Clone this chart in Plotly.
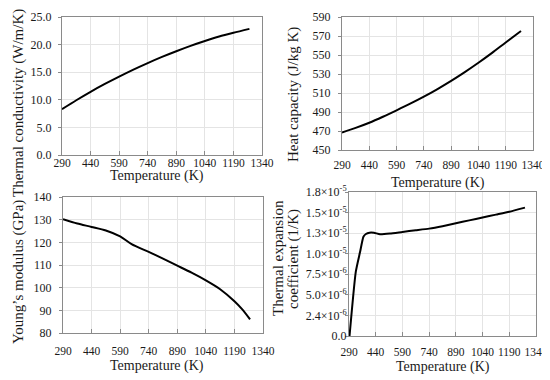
import plotly.graph_objects as go

# ---- data ----
T_k = [290, 365, 440, 515, 590, 665, 740, 815, 890, 965, 1040, 1115, 1190, 1274]
k_vals = [8.3, 9.92, 11.45, 12.87, 14.2, 15.47, 16.65, 17.77, 18.8, 19.77, 20.65, 21.47, 22.15, 22.85]

T_cp = [290, 365, 440, 515, 590, 665, 740, 815, 890, 965, 1040, 1115, 1190, 1274]
cp_vals = [468.5, 473.3, 478.7, 485.0, 491.8, 498.8, 506.2, 514.2, 522.8, 532.0, 541.8, 552.2, 563.2, 575.3]

T_E = [290, 365, 440, 515, 590, 650, 740, 815, 890, 965, 1040, 1115, 1190, 1230, 1272]
E_vals = [130.2, 128.3, 126.8, 125.2, 122.6, 119.2, 115.8, 112.8, 109.7, 106.6, 103.2, 99.3, 94.0, 90.5, 86.0]

T_a = [293, 328, 352, 371, 385, 405, 430, 464, 520, 590, 665, 740, 815, 890, 965, 1040, 1115, 1190, 1278]
a_vals = [0.0, 7.8e-6, 1.02e-5, 1.207e-5, 1.24e-5, 1.256e-5, 1.255e-5, 1.237e-5, 1.245e-5, 1.265e-5,
          1.285e-5, 1.305e-5, 1.335e-5, 1.37e-5, 1.405e-5, 1.44e-5, 1.475e-5, 1.51e-5, 1.56e-5]

x_ticks = [290, 440, 590, 740, 890, 1040, 1190, 1340]
k_ticks = [0, 5, 10, 15, 20, 25]
cp_ticks = [450, 470, 490, 510, 530, 550, 570, 590]
E_ticks = [80, 90, 100, 110, 120, 130, 140]
a_ticks = [0, 2.5e-6, 5e-6, 7.5e-6, 1e-5, 1.25e-5, 1.5e-5, 1.75e-5]
a_labels = ["0.0", "2.4×10<sup>-6</sup>", "5.0×10<sup>-6</sup>", "7.5×10<sup>-6</sup>",
            "1.0×10<sup>-5</sup>", "1.3×10<sup>-5</sup>", "1.5×10<sup>-5</sup>", "1.8×10<sup>-5</sup>"]

# page body has an 8px margin; the figure is sized to fill the rest of the window
OFF = 8
W, H = 550 - OFF, 380 - OFF
FONT = "Liberation Serif"

def px_x(p):
    return (p - OFF) / W

def px_y(p):
    return 1 - (p - OFF) / H

fig = go.Figure()
line = dict(color="black", width=2, shape="spline", smoothing=0.8)
fig.add_trace(go.Scatter(x=T_k, y=k_vals, mode="lines", line=line, xaxis="x", yaxis="y", showlegend=False))
fig.add_trace(go.Scatter(x=T_cp, y=cp_vals, mode="lines", line=line, xaxis="x2", yaxis="y2", showlegend=False))
fig.add_trace(go.Scatter(x=T_E, y=E_vals, mode="lines", line=line, xaxis="x3", yaxis="y3", showlegend=False))
fig.add_trace(go.Scatter(x=T_a, y=a_vals, mode="lines", line=dict(color="black", width=2, shape="spline", smoothing=0.5),
                         xaxis="x4", yaxis="y4", showlegend=False))

common = dict(showline=True, mirror=True, linecolor="#8a8a8a", linewidth=1, automargin=False,
              showgrid=True, gridcolor="#e4e4e4", gridwidth=1, zeroline=False, tickangle=0,
              tickcolor="#8a8a8a", ticklen=4)

def xax(domain, anchor, standoff):
    return dict(common, domain=domain, anchor=anchor, range=[290, 1340], tickvals=x_ticks,
                ticks="inside", ticklabelstandoff=standoff,
                tickfont=dict(family=FONT, size=11.5, color="#1a1a1a"))

def yax(domain, anchor, rng, tv, standoff, tt=None, fmt=None):
    d = dict(common, domain=domain, anchor=anchor, range=rng, tickvals=tv, ticks="outside", ticklen=3,
             ticklabelstandoff=standoff, tickfont=dict(family=FONT, size=12, color="#1a1a1a"))
    if tt is not None:
        d["ticktext"] = tt
    if fmt is not None:
        d["tickformat"] = fmt
    return d

fig.update_layout(
    width=W, height=H, margin=dict(l=0, r=0, t=0, b=0, autoexpand=False),
    paper_bgcolor="white", plot_bgcolor="white",
    font=dict(family=FONT, size=12, color="#1a1a1a"),
    xaxis=xax([px_x(62), px_x(262)], "y", -3),
    yaxis=yax([px_y(155), px_y(17)], "x", [0, 25], k_ticks, 4, fmt=".1f"),
    xaxis2=xax([px_x(342), px_x(533)], "y2", 4),
    yaxis2=yax([px_y(150), px_y(17)], "x2", [450, 590], cp_ticks, 5),
    xaxis3=xax([px_x(63), px_x(263)], "y3", 7),
    yaxis3=yax([px_y(333), px_y(197)], "x3", [80, 140], E_ticks, 5),
    xaxis4=xax([px_x(349), px_x(536)], "y4", 5),
    yaxis4=yax([px_y(336), px_y(192)], "x4", [0, 1.75e-5], a_ticks, -4, tt=a_labels),
)

ann = []
def label(text, x, y, angle=0, size=14):
    ann.append(dict(text=text, x=px_x(x), y=px_y(y), xref="paper", yref="paper",
                    showarrow=False, textangle=angle, xanchor="center", yanchor="middle",
                    font=dict(family=FONT, size=size, color="#1a1a1a")))

label("Temperature (K)", 157, 176)
label("Temperature (K)", 438, 183)
label("Temperature (K)", 157, 366)
label("Temperature (K)", 443, 367)
label("Thermal conductivity (W/m/K)", 18, 103, -90, 15)
label("Heat capacity (J/kg K)", 293, 95, -90, 15)
label("Young’s modulus (GPa)", 18, 272, -90, 15)
label("Thermal expansion", 278, 258, -90, 15)
label("coefficient (1/K)", 294, 259, -90, 15)
fig.update_layout(annotations=ann)

fig.write_html("out.html")
